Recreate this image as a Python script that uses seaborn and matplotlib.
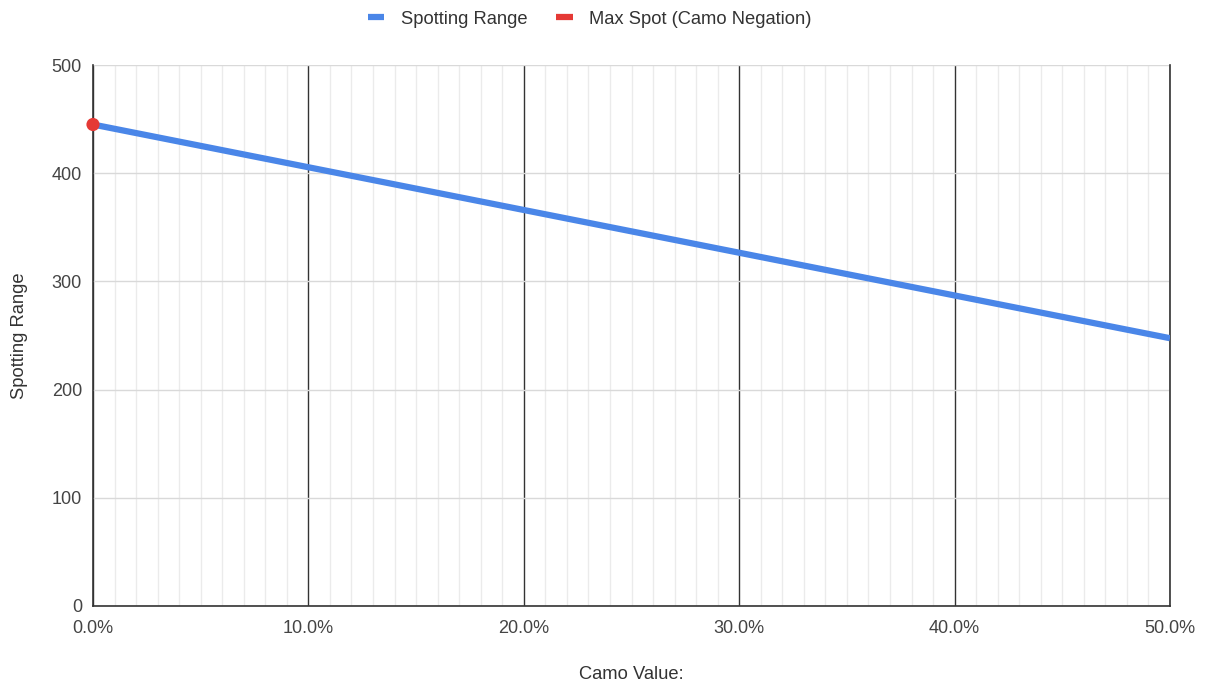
import matplotlib
matplotlib.use("Agg")
import matplotlib.pyplot as plt
import seaborn as sns
import pandas as pd
from matplotlib.ticker import MultipleLocator, FuncFormatter
from matplotlib.lines import Line2D

# Spotting range as camo value increases
camo_value = [0.0, 0.1, 0.2, 0.3, 0.4, 0.5]
spotting_range = [445, 405.5, 366, 326.5, 287, 247.5]

# Maximum spot with camo negated
max_spot_camo = [0.0]
max_spot_range = [445]

sns.set_theme(style="white")
plt.rcParams["font.family"] = ["Liberation Sans", "DejaVu Sans"]

fig = plt.figure(figsize=(12.06, 6.81), dpi=100)
ax = fig.add_axes([93 / 1206, 1 - 606 / 681, (1170 - 93) / 1206, (606 - 65) / 681])

df = pd.DataFrame({"camo": camo_value, "range": spotting_range})
sns.lineplot(data=df, x="camo", y="range", ax=ax, color="#4a86e8", linewidth=4.5,
             solid_capstyle="butt", zorder=5)
dfm = pd.DataFrame({"camo": max_spot_camo, "range": max_spot_range})
sns.scatterplot(data=dfm, x="camo", y="range", ax=ax, color="#e53935", s=90,
                edgecolor="none", zorder=6, clip_on=False)

ax.set_xlim(0, 0.5)
ax.set_ylim(0, 500)
ax.xaxis.set_major_locator(MultipleLocator(0.1))
ax.xaxis.set_minor_locator(MultipleLocator(0.01))
ax.yaxis.set_major_locator(MultipleLocator(100))
ax.xaxis.set_major_formatter(FuncFormatter(lambda v, p: f"{v * 100:.1f}%"))

ax.grid(which="minor", axis="x", color="#ebebeb", linewidth=1)
ax.grid(which="major", axis="x", color="#333333", linewidth=1)
ax.grid(which="major", axis="y", color="#d9d9d9", linewidth=1)
ax.set_axisbelow(True)

for side in ["left", "bottom", "right"]:
    ax.spines[side].set_color("#333333")
    ax.spines[side].set_linewidth(1.2)
ax.spines["top"].set_visible(False)

ax.tick_params(axis="both", which="both", length=0, labelsize=13, colors="#444444")
ax.tick_params(axis="x", pad=10)
ax.tick_params(axis="y", pad=8)
ax.set_xlabel("Camo Value:", fontsize=13.2, color="#333333", labelpad=21)
ax.set_ylabel("Spotting Range", fontsize=13.2, color="#333333", labelpad=17)

handles = [
    Line2D([], [], color="#4a86e8", linewidth=4.5, solid_capstyle="butt"),
    Line2D([], [], color="#e53935", linewidth=4.5, solid_capstyle="butt"),
]
fig.legend(handles, ["Spotting Range", "Max Spot (Camo Negation)"], loc="center",
           bbox_to_anchor=(0.489, 1 - 19 / 681), ncol=2, frameon=False, fontsize=13.2,
           handlelength=0.9, columnspacing=1.6, handletextpad=0.9,
           labelcolor="#333333")

fig.savefig("out.png", dpi=100)
